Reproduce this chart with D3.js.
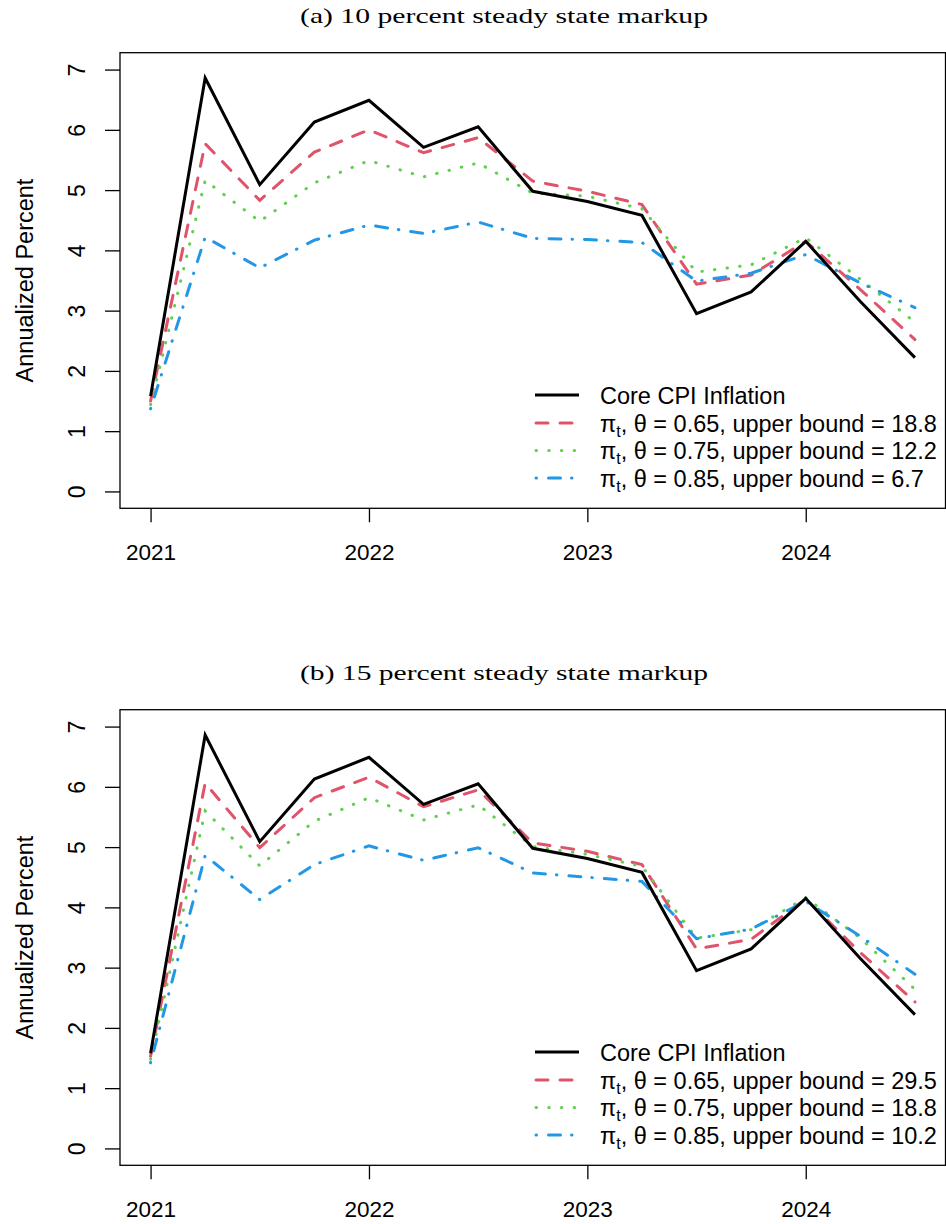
<!DOCTYPE html>
<html>
<head>
<meta charset="utf-8">
<script src="https://cdn.jsdelivr.net/npm/d3@7"></script>
<style>
  body { margin: 0; background: #fff; }
  svg text { font-family: "Liberation Sans", Arial, sans-serif; fill: #000; }
</style>
</head>
<body>
<div id="chart"></div>
<script>
// quarterly dates, 2021Q1 .. 2024Q3
var quarters = [2021, 2021.25, 2021.5, 2021.75, 2022, 2022.25, 2022.5, 2022.75,
                2023, 2023.25, 2023.5, 2023.75, 2024, 2024.25, 2024.5];
var yearTicks = [2021, 2022, 2023, 2024];
var yTicks = [0, 1, 2, 3, 4, 5, 6, 7];

var coreCPI = [1.58, 6.86, 5.09, 6.13, 6.49, 5.71, 6.05, 4.98, 4.81, 4.58, 2.95, 3.31, 4.15, 3.15, 2.22];

// (a) 10 percent markup
var a_theta65 = [1.50, 5.77, 4.83, 5.63, 6.00, 5.62, 5.87, 5.15, 4.98, 4.76, 3.44, 3.59, 4.15, 3.35, 2.52];
var a_theta75 = [1.44, 5.16, 4.48, 5.12, 5.49, 5.22, 5.45, 4.95, 4.90, 4.69, 3.64, 3.76, 4.21, 3.52, 2.81];
var a_theta85 = [1.37, 4.22, 3.71, 4.17, 4.42, 4.28, 4.47, 4.20, 4.18, 4.13, 3.49, 3.62, 3.93, 3.46, 3.05];
var a_bounds = ["18.8", "12.2", "6.7"];

// (b) 15 percent markup
var b_theta65 = [1.53, 6.06, 4.99, 5.82, 6.16, 5.67, 5.95, 5.07, 4.93, 4.71, 3.31, 3.47, 4.14, 3.25, 2.43];
var b_theta75 = [1.48, 5.60, 4.69, 5.43, 5.82, 5.45, 5.70, 5.01, 4.88, 4.68, 3.49, 3.63, 4.16, 3.49, 2.64];
var b_theta85 = [1.42, 4.86, 4.13, 4.71, 5.02, 4.78, 4.99, 4.57, 4.50, 4.43, 3.48, 3.64, 4.10, 3.52, 2.89];
var b_bounds = ["29.5", "18.8", "10.2"];

var thetas = ["0.65", "0.75", "0.85"];
var colors = ["#DF536B", "#61D04F", "#2297E6"];
var dashes = ["12,12", "0.5,12.2", "0.5,12,12,11"];

var width = 946, height = 1224;
var svg = d3.select('#chart').append('svg')
  .attr('width', width).attr('height', height);

var x = d3.scaleLinear().domain([2021 - 0.14, 2024.5 + 0.14]).range([120, 945.5]);

function drawPanel(top, title, series, bounds) {
  var g = svg.append('g').attr('transform', 'translate(0,' + top + ')');
  var y = d3.scaleLinear().domain([-0.28, 7.28]).range([508.3, 52.7]);

  g.append('text')
    .attr('x', 504).attr('y', 23)
    .attr('text-anchor', 'middle')
    .attr('textLength', 408).attr('lengthAdjust', 'spacingAndGlyphs')
    .style('font-family', '"Liberation Serif", "DejaVu Serif", serif')
    .style('font-size', '22px')
    .text(title);

  // y axis
  var yAxis = g.append('g')
    .attr('transform', 'translate(120,0)')
    .call(d3.axisLeft(y).tickValues(yTicks).tickSize(15).tickFormat(d3.format('d')));
  yAxis.select('.domain').remove();
  yAxis.selectAll('line').attr('stroke-width', 1.3);
  yAxis.selectAll('text')
    .attr('x', null).attr('dy', null)
    .attr('text-anchor', 'middle')
    .attr('transform', 'translate(-35,0) rotate(-90)')
    .style('font-size', '23px');

  // x axis
  var xAxis = g.append('g')
    .attr('transform', 'translate(0,508.3)')
    .call(d3.axisBottom(x).tickValues(yearTicks).tickSize(14).tickFormat(d3.format('d')));
  xAxis.select('.domain').remove();
  xAxis.selectAll('line').attr('stroke-width', 1.3);
  xAxis.selectAll('text')
    .attr('y', 52).attr('dy', null)
    .style('font-size', '22.5px');

  g.append('text')
    .attr('transform', 'translate(32.5,' + ((52.7 + 508.3) / 2) + ') rotate(-90)')
    .attr('text-anchor', 'middle')
    .style('font-size', '23.5px')
    .text('Annualized Percent');

  // box
  g.append('rect')
    .attr('x', 120).attr('y', 52.7)
    .attr('width', 945.5 - 120).attr('height', 508.3 - 52.7)
    .attr('fill', 'none').attr('stroke', '#000').attr('stroke-width', 1.3);

  var line = d3.line()
    .x(function (d, i) { return x(quarters[i]); })
    .y(function (d) { return y(d); });

  series.forEach(function (s, k) {
    g.append('path')
      .datum(s)
      .attr('d', line)
      .attr('fill', 'none')
      .attr('stroke', colors[k])
      .attr('stroke-width', 3)
      .attr('stroke-linecap', 'round')
      .attr('stroke-dasharray', dashes[k]);
  });

  g.append('path')
    .datum(coreCPI)
    .attr('d', line)
    .attr('fill', 'none')
    .attr('stroke', '#000')
    .attr('stroke-width', 3)
    .attr('stroke-linejoin', 'miter');

  // legend
  var rows = [395, 423, 450.5, 478];
  var leg = g.append('g');
  leg.append('line')
    .attr('x1', 535).attr('x2', 579).attr('y1', rows[0]).attr('y2', rows[0])
    .attr('stroke', '#000').attr('stroke-width', 3);
  leg.append('text')
    .attr('x', 600).attr('y', rows[0] + 8.5)
    .style('font-size', '23.5px')
    .text('Core CPI Inflation');

  thetas.forEach(function (th, k) {
    var ry = rows[k + 1];
    leg.append('line')
      .attr('x1', 536).attr('x2', 579).attr('y1', ry).attr('y2', ry)
      .attr('stroke', colors[k]).attr('stroke-width', 3)
      .attr('stroke-linecap', 'round')
      .attr('stroke-dasharray', dashes[k]);
    var t = leg.append('text')
      .attr('x', 600).attr('y', ry + 8.5)
      .style('font-size', '23.5px');
    t.append('tspan').text('\u03C0');
    t.append('tspan').attr('dy', 5).style('font-size', '16px').text('t');
    t.append('tspan').attr('dy', -5).text(', \u03B8 = ' + th + ', upper bound = ' + bounds[k]);
  });
}

drawPanel(0, '(a) 10 percent steady state markup', [a_theta65, a_theta75, a_theta85], a_bounds);
drawPanel(657, '(b) 15 percent steady state markup', [b_theta65, b_theta75, b_theta85], b_bounds);
</script>
</body>
</html>
